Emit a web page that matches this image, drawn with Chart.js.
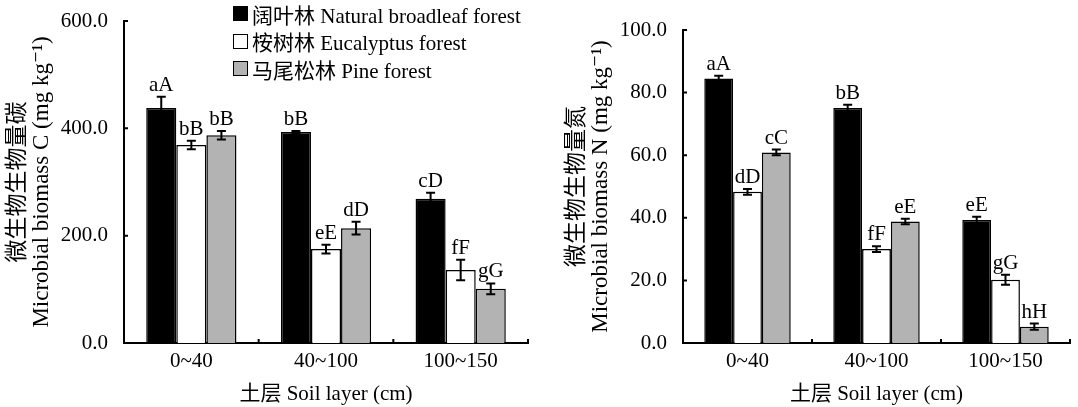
<!DOCTYPE html>
<html>
<head>
<meta charset="utf-8">
<script src="https://cdn.jsdelivr.net/npm/chart.js@4.4.1/dist/chart.umd.min.js"></script>
<style>
  html, body { margin: 0; padding: 0; background: #fff; }
  #wrap { position: relative; width: 1078px; height: 407px; overflow: hidden; }
  .panel { position: absolute; top: 0; height: 407px; }
  #panelC { left: 0; width: 540px; }
  #panelN { left: 540px; width: 538px; }
  #legend { position: absolute; left: 233px; top: 0px; font-family: 'Liberation Serif', 'Noto Sans CJK SC', serif; font-size: 21px; color: #000; }
  #legend .row { display: flex; align-items: center; height: 27.5px; white-space: nowrap; }
  #legend .box { width: 13px; height: 13px; border: 1.5px solid #000; margin-right: 4px; }
</style>
</head>
<body>
<div id="wrap">
  <div class="panel" id="panelC"><canvas id="chart-carbon"></canvas></div>
  <div class="panel" id="panelN"><canvas id="chart-nitrogen"></canvas></div>
  <div id="legend"></div>
</div>
<script>
const soilLayers = ['0~40', '40~100', '100~150'];
const forestNames = ['阔叶林 Natural broadleaf forest', '桉树林 Eucalyptus forest', '马尾松林 Pine forest'];
const forestColors = ['#000000', '#ffffff', '#b3b3b3'];

// microbial biomass C (mg/kg)
const carbonBroadleaf = [438, 393, 269];
const carbonBroadleafErr = [21, 2, 11];
const carbonEucalyptus = [369, 175, 136];
const carbonEucalyptusErr = [8, 8, 19];
const carbonPine = [387, 214, 101];
const carbonPineErr = [8, 12, 10];
const carbonLettersBroadleaf = ['aA', 'bB', 'cD'];
const carbonLettersEucalyptus = ['bB', 'eE', 'fF'];
const carbonLettersPine = ['bB', 'dD', 'gG'];

// microbial biomass N (mg/kg)
const nitrogenBroadleaf = [84.5, 75.1, 39.3];
const nitrogenBroadleafErr = [0.9, 1.0, 1.0];
const nitrogenEucalyptus = [48.3, 30.0, 20.2];
const nitrogenEucalyptusErr = [0.9, 0.9, 1.6];
const nitrogenPine = [60.9, 38.8, 5.2];
const nitrogenPineErr = [0.9, 0.9, 1.0];
const nitrogenLettersBroadleaf = ['aA', 'bB', 'eE'];
const nitrogenLettersEucalyptus = ['dD', 'fF', 'gG'];
const nitrogenLettersPine = ['cC', 'eE', 'hH'];

const FONT = "'Liberation Serif', 'Noto Sans CJK SC', 'DejaVu Serif', serif";

// legend as html
const legendEl = document.getElementById('legend');
forestNames.forEach((name, i) => {
  const row = document.createElement('div');
  row.className = 'row';
  const box = document.createElement('span');
  box.className = 'box';
  box.style.background = forestColors[i];
  const txt = document.createElement('span');
  txt.textContent = name;
  row.appendChild(box);
  row.appendChild(txt);
  legendEl.appendChild(row);
});

const errorBarPlugin = {
  id: 'errorBars',
  afterDatasetsDraw(chart) {
    const ctx = chart.ctx;
    const ys = chart.scales.y;
    ctx.save();
    chart.data.datasets.forEach((ds, di) => {
      const meta = chart.getDatasetMeta(di);
      meta.data.forEach((bar, i) => {
        const v = ds.data[i];
        const e = ds.errors[i];
        const yTop = ys.getPixelForValue(v + e);
        const yBot = ys.getPixelForValue(v - e);
        ctx.strokeStyle = '#000';
        ctx.lineWidth = 2;
        ctx.beginPath();
        ctx.moveTo(bar.x, yTop); ctx.lineTo(bar.x, yBot);
        ctx.moveTo(bar.x - 4.5, yTop); ctx.lineTo(bar.x + 4.5, yTop);
        ctx.moveTo(bar.x - 4.5, yBot); ctx.lineTo(bar.x + 4.5, yBot);
        ctx.stroke();
        ctx.fillStyle = '#000';
        ctx.font = '21px ' + FONT;
        ctx.textAlign = 'center';
        ctx.textBaseline = 'alphabetic';
        ctx.fillText(ds.letters[i], bar.x, yTop - 6);
      });
    });
    ctx.restore();
  },
};

const innerTicksPlugin = {
  id: 'innerTicks',
  afterDraw(chart) {
    const ctx = chart.ctx;
    const xs = chart.scales.x;
    const ys = chart.scales.y;
    ctx.save();
    ctx.strokeStyle = '#000';
    ctx.lineWidth = 2;
    ctx.beginPath();
    const n = xs.ticks.length;
    for (let i = 1; i <= n; i++) {
      const x = xs.left + i * (xs.width / n);
      ctx.moveTo(x, ys.bottom);
      ctx.lineTo(x, ys.bottom - 4);
    }
    ys.ticks.forEach((t, i) => {
      if (t.value === 0) return;
      const y = ys.getPixelForTick(i);
      ctx.moveTo(xs.left, y);
      ctx.lineTo(xs.left + 4, y);
    });
    ctx.stroke();
    ctx.restore();
  },
};

function makeDatasets(values, errors, letters) {
  return values.map((v, i) => ({
    label: forestNames[i],
    data: v,
    errors: errors[i],
    letters: letters[i],
    backgroundColor: forestColors[i],
    borderColor: '#000',
    borderWidth: 1.5,
    categoryPercentage: 0.67,
    barPercentage: 1.0,
  }));
}

function createSoilChart(canvasId, datasets, yMax, yStep, yTitle, pad, yWidth) {
  const ctx = document.getElementById(canvasId);
  return new Chart(ctx, {
    type: 'bar',
    data: { labels: soilLayers, datasets },
    plugins: [errorBarPlugin, innerTicksPlugin],
    options: {
      responsive: true,
      maintainAspectRatio: false,
      animation: false,
      layout: { padding: pad },
      plugins: { legend: { display: false }, tooltip: { enabled: false } },
      scales: {
        x: {
          grid: { display: false },
          border: { display: true, color: '#000', width: 2 },
          ticks: { color: '#000', padding: -2, font: { family: FONT, size: 21 } },
          title: {
            display: true,
            text: '土层 Soil layer (cm)',
            color: '#000',
            padding: { top: 0, bottom: 0 },
            font: { family: FONT, size: 21, lineHeight: 1.15 },
          },
          afterFit: s => { s.height = 64; },
        },
        y: {
          min: 0,
          max: yMax,
          grid: { display: false },
          border: { display: true, color: '#000', width: 2 },
          ticks: {
            stepSize: yStep,
            color: '#000',
            padding: 8,
            font: { family: FONT, size: 21 },
            callback: v => Number(v).toFixed(1),
          },
          title: {
            display: true,
            text: yTitle,
            color: '#000',
            padding: { top: 6, bottom: 0 },
            font: { family: FONT, size: 23, lineHeight: 1.05 },
          },
          afterFit: s => { s.width = yWidth; },
        },
      },
    },
  });
}

createSoilChart(
  'chart-carbon',
  makeDatasets(
    [carbonBroadleaf, carbonEucalyptus, carbonPine],
    [carbonBroadleafErr, carbonEucalyptusErr, carbonPineErr],
    [carbonLettersBroadleaf, carbonLettersEucalyptus, carbonLettersPine]
  ),
  600, 200,
  ['微生物生物量碳', 'Microbial biomass C (mg kg⁻¹)'],
  { top: 21, left: 0, right: 12, bottom: 0 },
  124
);

createSoilChart(
  'chart-nitrogen',
  makeDatasets(
    [nitrogenBroadleaf, nitrogenEucalyptus, nitrogenPine],
    [nitrogenBroadleafErr, nitrogenEucalyptusErr, nitrogenPineErr],
    [nitrogenLettersBroadleaf, nitrogenLettersEucalyptus, nitrogenLettersPine]
  ),
  100, 20,
  ['微生物生物量氮', 'Microbial biomass N (mg kg⁻¹)'],
  { top: 30, left: 19, right: 8, bottom: 0 },
  124
);
</script>
</body>
</html>
